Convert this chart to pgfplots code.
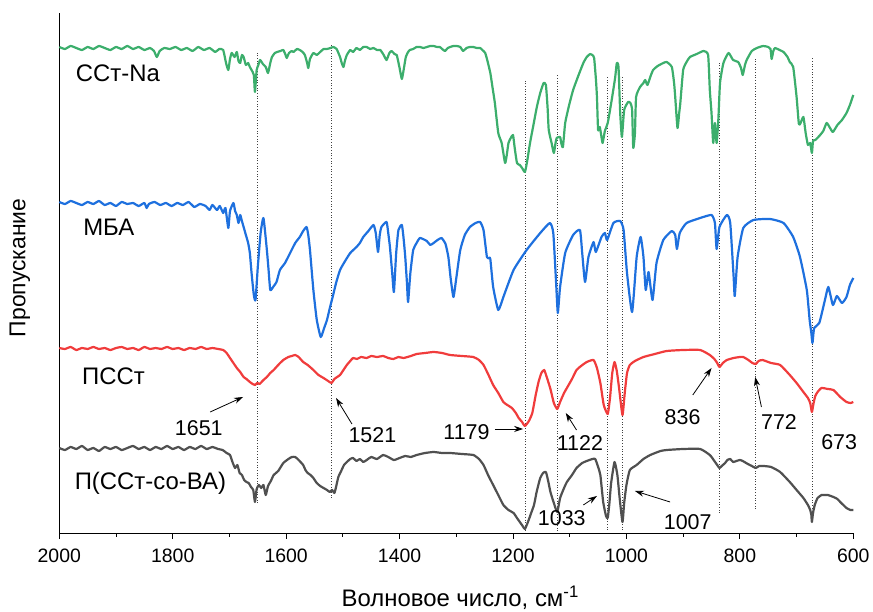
\documentclass[border=0pt]{standalone}
\usepackage{pgfplots}
\pgfplotsset{compat=1.18}
\usepackage{fontspec}
\setmainfont{Liberation Sans}
\usetikzlibrary{arrows.meta}

\definecolor{cgreen}{RGB}{60,174,108}
\definecolor{cblue}{RGB}{30,112,222}
\definecolor{cred}{RGB}{240,60,60}
\definecolor{cgray}{RGB}{80,80,80}

\pgfplotstableread{
w y
2000 486
1990 484
1980 487
1970 485
1960 483
1950 486
1940 484
1930 487
1920 485
1910 483
1900 486
1890 484
1880 487
1870 484
1860 486
1850 483
1840 485
1833 482
1828 476
1823 482
1815 485
1805 484
1795 486
1785 483
1775 485
1765 482
1755 486
1745 483
1735 485
1725 481
1718 484
1711 483
1706 470
1702 463
1699 474
1696 480
1691 476
1687 481
1684 472
1681 470
1678 478
1675 476
1671 468
1667 470
1664 466
1661 463
1657 458
1655 441
1652 463
1649 468
1646 473
1641 469
1636 466
1632 460
1628 470
1625 476
1620 480
1616 481
1610 482
1605 483
1601 478
1599 475
1595 480
1590 482
1587 481
1581 484
1576 483
1571 481
1567 478
1563 470
1561 465
1558 474
1552 480
1546 478
1540 481
1534 484
1528 484
1522 485
1517 486
1511 484
1505 476
1502 470
1499 466
1496 473
1493 478
1487 483
1482 481
1476 485
1470 483
1464 486
1458 486
1452 484
1446 485
1440 483
1434 483
1428 478
1423 473
1418 480
1414 482
1409 479
1405 478
1400 465
1396 454
1392 466
1389 476
1385 481
1382 483
1376 484
1370 486
1364 486
1358 485
1352 486
1346 487
1340 487
1334 486
1329 486
1325 484
1320 482
1315 485
1311 486
1305 487
1299 487
1293 486
1288 482
1282 485
1276 486
1270 486
1264 485
1258 485
1254 483
1249 480
1245 472
1240 460
1236 445
1232 430
1226 400
1220 390
1214 370
1211 378
1208 390
1204 395
1200 398
1197 385
1193 370
1188 368
1184 365
1179 361
1175 372
1170 390
1164 408
1158 426
1152 440
1146 450
1142 448
1139 425
1137 403
1132 390
1128 380
1125 390
1123 395
1117 396
1115 390
1112 386
1108 410
1101 428
1094 443
1085 457
1076 470
1070 476
1064 479
1060 478
1057 475
1054 455
1052 436
1050 403
1047 406
1044 396
1042 390
1038 402
1033 410
1026 433
1020 455
1017 470
1014 466
1011 420
1008 396
1004 423
997 431
993 430
990 423
988 385
985 400
983 436
976 446
970 450
967 453
963 448
958 456
953 463
945 467
935 470
929 471
920 466
916 450
914 436
910 405
907 420
905 430
900 463
894 471
888 476
876 479
864 482
856 478
853 443
850 420
847 390
844 410
841 390
838 413
835 450
829 470
820 480
812 473
803 471
798 465
795 458
791 468
788 473
779 482
770 485
759 487
750 486
746 484
744 474
741 482
738 485
730 483
723 481
716 476
712 471
706 466
700 436
696 409
693 410
688 416
684 400
680 388
676 390
673 380
671 392
667 393
660 397
653 402
647 410
641 405
636 401
628 408
620 413
612 420
606 428
600 438
}\sstna

\pgfplotstableread{
w y
2000 331
1990 329
1980 332
1970 330
1960 328
1950 331
1940 329
1930 332
1920 328
1910 330
1900 327
1890 331
1880 329
1870 330
1860 327
1850 330
1846 325
1842 329
1832 331
1822 328
1812 330
1802 327
1792 330
1782 328
1772 331
1762 326
1752 329
1742 327
1735 323
1730 328
1722 323
1717 327
1711 320
1707 325
1702 305
1699 322
1693 330
1690 322
1687 318
1684 310
1681 318
1678 312
1675 306
1671 298
1667 290
1664 280
1661 260
1657 238
1654 233
1650 266
1645 300
1640 315
1634 283
1631 263
1628 243
1623 246
1617 251
1611 263
1602 270
1593 280
1584 290
1576 296
1570 302
1564 306
1561 298
1558 283
1552 243
1546 213
1539 196
1533 205
1528 213
1523 225
1518 236
1512 250
1505 263
1496 272
1487 280
1476 286
1470 290
1464 296
1455 302
1446 308
1442 300
1438 281
1435 298
1432 306
1423 311
1420 300
1417 286
1413 260
1410 241
1406 280
1402 303
1396 308
1393 295
1390 276
1387 250
1385 231
1381 260
1376 283
1370 290
1364 295
1352 292
1346 288
1340 290
1333 293
1326 295
1319 289
1314 276
1310 255
1305 236
1300 255
1293 283
1285 298
1276 306
1266 310
1258 311
1252 303
1246 276
1242 275
1240 274
1235 246
1226 223
1217 236
1199 263
1176 283
1152 300
1135 310
1129 300
1124 250
1121 220
1117 246
1108 280
1094 298
1082 303
1078 280
1073 251
1067 276
1058 291
1054 281
1044 296
1038 300
1034 293
1023 310
1011 312
1005 303
999 260
990 221
982 276
975 296
970 276
966 243
961 261
954 233
947 270
935 293
920 302
914 298
911 284
906 300
894 310
870 315
850 318
844 310
841 284
836 306
823 318
817 310
811 256
809 237
804 276
794 305
776 313
747 314
723 310
706 296
694 276
682 243
677 213
674 200
672 190
669 205
660 210
650 233
644 246
636 228
629 237
620 230
612 236
606 248
600 255
}\mba

\pgfplotstableread{
w y
2000 185
1990 184
1980 186
1970 183
1960 185
1950 184
1940 186
1930 184
1920 185
1910 183
1900 185
1890 186
1880 184
1870 185
1860 183
1850 186
1840 184
1830 185
1820 184
1810 186
1800 184
1790 185
1780 183
1770 185
1760 184
1750 186
1740 184
1730 185
1720 184
1711 183
1705 180
1699 175
1693 170
1687 165
1681 161
1675 156
1670 154
1664 151
1659 149
1655 148
1651 150
1647 149
1640 153
1634 156
1628 160
1622 163
1614 168
1605 173
1596 176
1590 177
1584 178
1578 176
1570 171
1562 168
1552 163
1543 158
1534 155
1526 152
1520 150
1515 154
1510 156
1505 158
1499 163
1493 168
1487 172
1482 175
1475 174
1468 176
1458 175
1450 177
1440 176
1429 177
1420 175
1411 174
1402 176
1393 175
1380 177
1370 179
1355 180
1340 181
1325 180
1311 178
1290 177
1270 176
1260 173
1252 168
1244 159
1235 148
1226 140
1217 131
1210 128
1202 125
1195 120
1190 115
1184 111
1179 107
1172 112
1166 120
1160 138
1155 151
1150 160
1145 163
1140 155
1134 144
1128 130
1122 124
1117 131
1110 140
1105 145
1096 154
1088 163
1080 167
1070 171
1058 173
1052 165
1046 150
1040 128
1033 119
1029 135
1025 160
1021 171
1017 162
1013 145
1007 118
1003 140
999 160
994 168
985 172
970 176
950 179
929 182
900 183
870 183
853 178
845 174
840 170
836 166
830 170
823 173
811 175
800 176
794 176
785 173
778 170
772 169
767 172
760 173
745 170
729 168
712 158
700 150
688 141
680 135
676 130
673 121
670 130
667 137
663 141
656 145
645 144
635 143
623 136
612 131
605 130
600 131
}\psst

\pgfplotstableread{
w y
2000 85
1990 83
1980 86
1970 84
1960 87
1950 83
1940 85
1930 82
1920 86
1910 84
1900 86
1890 83
1880 85
1870 87
1860 84
1850 86
1840 83
1830 86
1820 84
1810 87
1800 84
1790 86
1780 83
1770 86
1760 84
1750 87
1740 84
1730 86
1720 84
1712 83
1705 80
1699 78
1694 70
1690 65
1686 68
1682 60
1678 58
1674 53
1670 51
1666 50
1662 46
1658 43
1655 31
1652 44
1648 48
1644 45
1640 48
1636 38
1632 47
1627 52
1622 58
1614 62
1605 70
1596 74
1590 76
1584 76
1578 73
1570 68
1566 63
1562 60
1557 58
1552 55
1546 50
1540 47
1534 45
1528 43
1523 41
1519 43
1515 40
1512 46
1508 56
1503 62
1498 68
1493 71
1487 74
1482 75
1476 72
1470 74
1464 71
1458 73
1450 76
1440 74
1429 78
1420 76
1410 73
1400 75
1390 77
1380 76
1370 78
1355 80
1340 81
1325 80
1311 80
1290 79
1270 78
1260 74
1252 68
1244 58
1235 48
1226 38
1217 28
1208 23
1199 20
1193 15
1188 11
1183 7
1179 4
1173 12
1168 20
1163 28
1158 42
1152 55
1147 60
1142 61
1138 52
1134 41
1128 30
1122 21
1117 35
1110 45
1105 51
1096 58
1088 65
1078 70
1070 72
1060 74
1055 74
1050 66
1046 58
1041 31
1036 17
1033 15
1030 30
1027 50
1021 71
1016 58
1012 35
1007 11
1004 30
1000 48
994 63
982 68
970 74
958 78
940 82
929 83
900 84
870 84
853 78
845 72
840 68
836 65
832 67
826 70
822 73
817 74
812 71
806 72
800 73
795 72
786 69
779 67
772 65
766 67
758 67
745 66
729 61
712 51
700 43
688 35
680 28
676 23
674 18
673 11
671 20
668 28
663 35
656 38
653 38
645 38
635 36
628 34
623 31
612 25
605 23
600 23
}\copol

\begin{document}
\begin{tikzpicture}[x=1bp,y=1bp]
\useasboundingbox (0,0) rectangle (873,612);
\begin{axis}[
  at={(59.3bp,79bp)}, anchor=south west,
  scale only axis, width=794bp, height=520bp,
  xmin=600, xmax=2000, ymin=0, ymax=520,
  x dir=reverse,
  axis x line*=bottom, axis y line*=left,
  axis line style={line width=0.9bp, black},
  ytick=\empty,
  xtick={600,800,...,2000},
  minor xtick={700,900,...,1900},
  tick align=outside,
  major tick length=6bp, minor tick length=4bp,
  every tick/.style={black, line width=0.9bp},
  ticklabel style={font=\fontsize{19.5}{22}\selectfont},
  xticklabel style={yshift=-6bp},
  /pgf/number format/assume math mode=true,
  /pgf/number format/1000 sep={},
  xlabel={Волновое число, см\textsuperscript{-1}},
  xlabel style={at={(axis description cs:0.505,-0.125)}, anchor=center, font=\fontsize{24}{26}\selectfont},
  ylabel={Пропускание},
  ylabel style={at={(axis description cs:-0.0495,0.51)}, anchor=center, font=\fontsize{23}{26}\selectfont},
  no marks,
  clip=false,
]
% reference lines at the assigned band positions
\pgfplotsset{refline/.style={black!75, dotted, line width=0.7bp}}
\addplot[refline] coordinates {(1651,30) (1651,480)};
\addplot[refline] coordinates {(1521,35) (1521,488)};
\addplot[refline] coordinates {(1179,2) (1179,453)};
\addplot[refline] coordinates {(1122,2) (1122,458)};
\addplot[refline] coordinates {(1033,3) (1033,456)};
\addplot[refline] coordinates {(1007,3) (1007,456)};
\addplot[refline] coordinates {(836,20) (836,470)};
\addplot[refline] coordinates {(772,24) (772,475)};
\addplot[refline] coordinates {(673,11) (673,475)};

% spectra
\pgfplotsset{spec/.style={line width=2.2bp, line join=round, smooth, tension=0.3}}
\addplot[cgreen, spec] table[x=w,y=y] {\sstna};
\addplot[cblue,  spec] table[x=w,y=y] {\mba};
\addplot[cred,   spec] table[x=w,y=y] {\psst};
\addplot[cgray,  spec] table[x=w,y=y] {\copol};

% sample names
\begin{scope}[every node/.style={font=\fontsize{24}{26}\selectfont, anchor=west, inner sep=0pt}]
\node at (axis cs:1971,460) {ССт-Na};
\node at (axis cs:1958,306) {МБА};
\node at (axis cs:1960,157) {ПССт};
\node at (axis cs:1973,50) {П(ССт-со-ВА)};
\end{scope}

% band labels
\begin{scope}[every node/.style={font=\fontsize{21.5}{24}\selectfont, anchor=center, inner sep=0pt}]
\node at (axis cs:1754,105) {1651};
\node at (axis cs:1448,98) {1521};
\node at (axis cs:1282,101) {1179};
\node at (axis cs:1082,90) {1122};
\node at (axis cs:1114,15) {1033};
\node at (axis cs:892,11) {1007};
\node at (axis cs:901,116) {836};
\node at (axis cs:731,111) {772};
\node at (axis cs:625,91) {673};
\end{scope}

\begin{scope}[-{Stealth[length=9bp,width=6bp]}, line width=0.8bp, black]
\draw (axis cs:1734,121) -- (axis cs:1676,136);
\draw (axis cs:1484,109) -- (axis cs:1512,135);
\draw (axis cs:1232,104) -- (axis cs:1182,104);
\draw (axis cs:1088,103) -- (axis cs:1107,120);
\draw (axis cs:1076,28) -- (axis cs:1052,37);
\draw (axis cs:923,31) -- (axis cs:985,42);
\draw (axis cs:883,138) -- (axis cs:850,165);
\draw (axis cs:762,126) -- (axis cs:773,156);
\end{scope}
\end{axis}
\end{tikzpicture}
\end{document}
